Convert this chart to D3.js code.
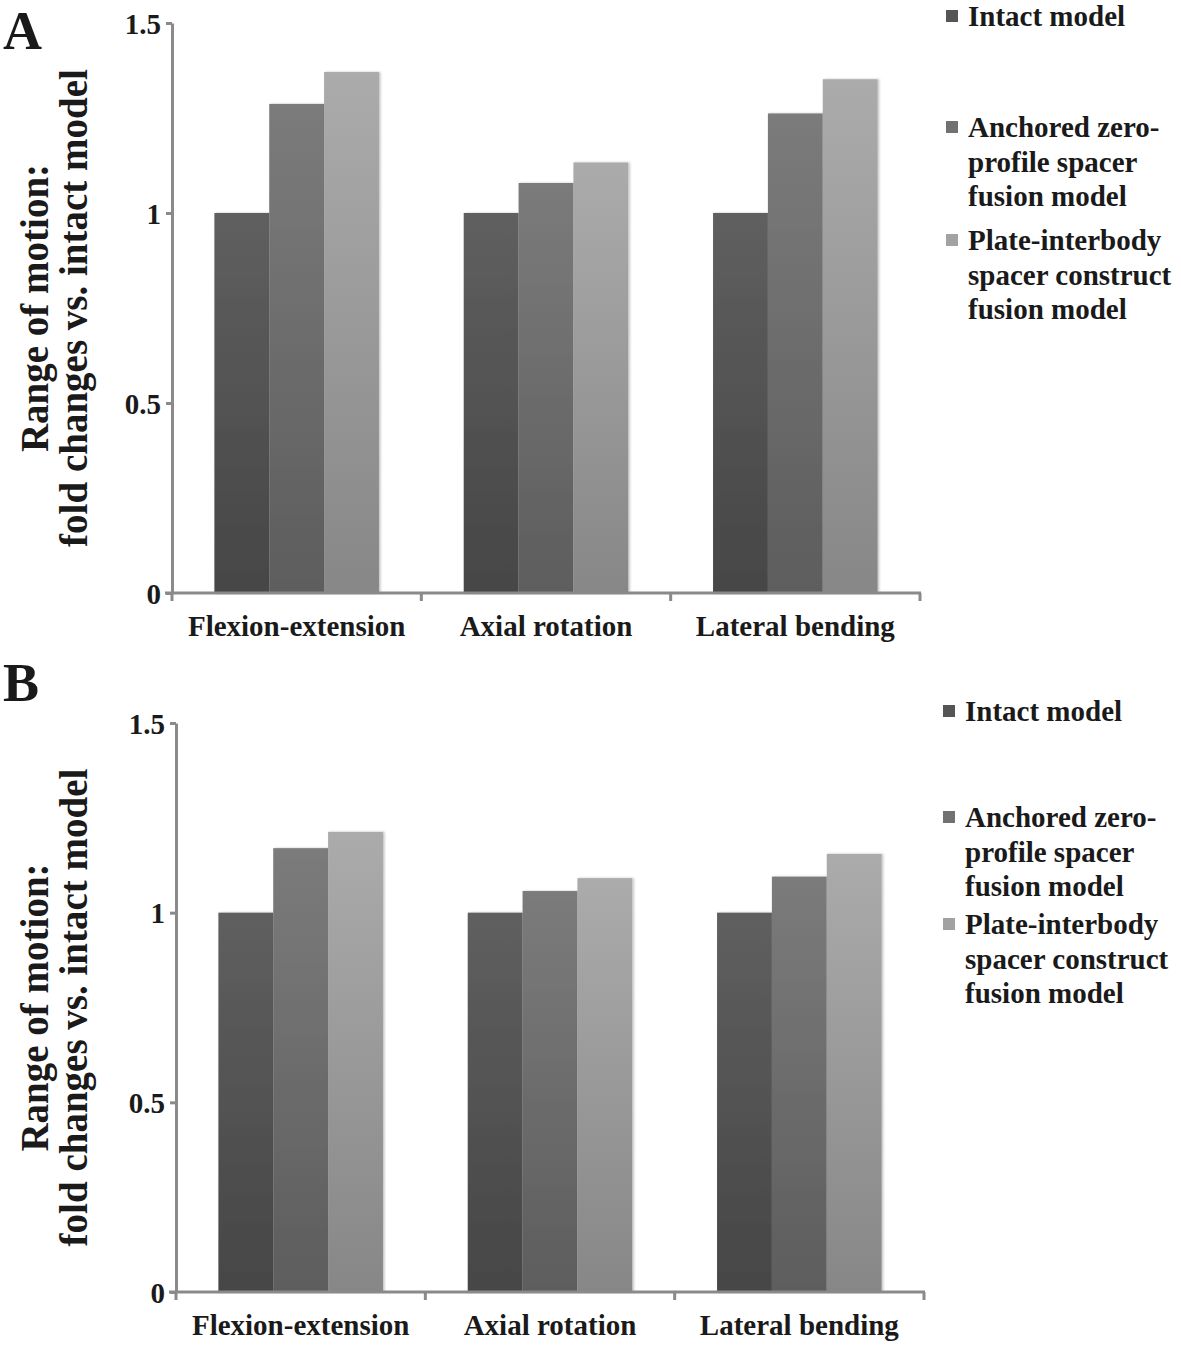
<!DOCTYPE html>
<html>
<head>
<meta charset="utf-8">
<script src="https://cdn.jsdelivr.net/npm/d3@7"></script>
<style>
  html, body { margin: 0; padding: 0; background: #fff; }
  svg { display: block; }
  text { font-family: "Liberation Serif", "Times New Roman", serif; fill: #1a1a1a; }
</style>
</head>
<body>
<svg id="chart" width="1181" height="1345"></svg>
<script>
// ---- data ----
const categories = ["Flexion-extension", "Axial rotation", "Lateral bending"];
const seriesKeys = ["intact", "anchored", "plate"];
const legendLines = [
  ["Intact model"],
  ["Anchored zero-", "profile spacer", "fusion model"],
  ["Plate-interbody", "spacer construct", "fusion model"]
];
const panelAIntact   = [1.0, 1.0, 1.0];
const panelAAnchored = [1.287, 1.079, 1.262];
const panelAPlate    = [1.371, 1.133, 1.352];
const panelBIntact   = [1.0, 1.0, 1.0];
const panelBAnchored = [1.170, 1.057, 1.095];
const panelBPlate    = [1.213, 1.091, 1.155];
const yTickValues = [0, 0.5, 1, 1.5];
const yTickLabels = ["0", "0.5", "1", "1.5"];
const yTitleLines = ["Range of motion:", "fold changes vs. intact model"];

// ---- styles ----
const gradStops = {
  intact:   ["#5f5f5f", "#464646"],
  anchored: ["#7b7b7b", "#5d5d5d"],
  plate:    ["#ababab", "#878787"]
};
const legendColors = { intact: "#555555", anchored: "#717171", plate: "#a2a2a2" };
const axisColor = "#8a8a8a";

const svg = d3.select("#chart");
const defs = svg.append("defs");
seriesKeys.forEach(k => {
  const g = defs.append("linearGradient").attr("id", "g-" + k)
    .attr("x1", 0).attr("y1", 0).attr("x2", 0).attr("y2", 1);
  g.append("stop").attr("offset", "0%").attr("stop-color", gradStops[k][0]);
  g.append("stop").attr("offset", "100%").attr("stop-color", gradStops[k][1]);
});
const f = defs.append("filter").attr("id", "shadow")
  .attr("x", "-10%").attr("y", "-10%").attr("width", "130%").attr("height", "120%");
f.append("feDropShadow").attr("dx", 1.5).attr("dy", 0).attr("stdDeviation", 1)
  .attr("flood-color", "#000").attr("flood-opacity", 0.25);

const panels = [
  { label: "A", labelY: 49, values: [panelAIntact, panelAAnchored, panelAPlate],
    x0: 172, x1: 920, yTop: 23, yBot: 593, legendX: 946,
    legendY: [16, 127, 240] },
  { label: "B", labelY: 701, values: [panelBIntact, panelBAnchored, panelBPlate],
    x0: 176, x1: 924, yTop: 723, yBot: 1292, legendX: 943,
    legendY: [711, 817, 924] }
];

panels.forEach(p => {
  const g = svg.append("g");
  const x = d3.scaleBand().domain(categories).range([p.x0, p.x1])
    .paddingInner(0.34).paddingOuter(0.17);
  const xs = d3.scaleBand().domain(seriesKeys).range([0, x.bandwidth()]).padding(0);
  const y = d3.scaleLinear().domain([0, 1.5]).range([p.yBot, p.yTop]);

  // bars
  const rows = categories.map((c, i) => ({ c, vals: seriesKeys.map((k, j) => ({ k, v: p.values[j][i] })) }));
  const cg = g.selectAll("g.cat").data(rows).join("g")
    .attr("transform", d => `translate(${x(d.c)},0)`);
  cg.selectAll("rect").data(d => d.vals).join("rect")
    .attr("x", d => xs(d.k))
    .attr("y", d => y(d.v))
    .attr("width", xs.bandwidth())
    .attr("height", d => y(0) - y(d.v))
    .attr("fill", d => `url(#g-${d.k})`)
    .attr("filter", "url(#shadow)");

  // y axis
  const yAxis = d3.axisLeft(y).tickValues(yTickValues)
    .tickFormat((d, i) => yTickLabels[i]).tickSize(6).tickSizeOuter(0).tickPadding(5);
  const ya = g.append("g").attr("transform", `translate(${p.x0},0)`).call(yAxis);
  ya.select(".domain").attr("stroke", axisColor).attr("stroke-width", 3);
  ya.selectAll(".tick line").attr("stroke", axisColor).attr("stroke-width", 3);
  ya.selectAll(".tick text").style("font-size", "29px").style("font-weight", "bold")
    .attr("fill", "#1a1a1a").attr("dy", "0.35em");

  // x axis
  const xAxis = d3.axisBottom(x).tickSize(0).tickPadding(22);
  const xa = g.append("g").attr("transform", `translate(0,${p.yBot})`).call(xAxis);
  xa.select(".domain").attr("stroke", axisColor).attr("stroke-width", 3)
    .attr("d", `M${p.x0 - 7},0H${p.x1 + 1}`);
  xa.selectAll(".tick text").style("font-size", "29px").style("font-weight", "bold")
    .attr("fill", "#1a1a1a").attr("dy", "0.71em");
  const bounds = [p.x0, ...categories.map(c => x(c) + x.bandwidth() / 2 + x.step() / 2)];
  xa.selectAll("line.sep").data(bounds).join("line").attr("class", "sep")
    .attr("x1", d => d).attr("x2", d => d).attr("y1", 0).attr("y2", 8)
    .attr("stroke", axisColor).attr("stroke-width", 3);

  // y title
  const cy = (p.yTop + p.yBot) / 2;
  const t = g.append("text")
    .attr("transform", `translate(48,${cy}) rotate(-90)`)
    .attr("text-anchor", "middle")
    .style("font-size", "39px").style("font-weight", "bold");
  yTitleLines.forEach((line, i) => {
    t.append("tspan").attr("x", 0).attr("dy", i === 0 ? 0 : 39).text(line);
  });

  // panel label
  g.append("text").attr("x", 3).attr("y", p.labelY)
    .style("font-size", "54px").style("font-weight", "bold").text(p.label);

  // legend
  seriesKeys.forEach((k, i) => {
    const ly = p.legendY[i];
    g.append("rect").attr("x", p.legendX).attr("y", ly - 6).attr("width", 12).attr("height", 12)
      .attr("fill", legendColors[k]);
    const lt = g.append("text").attr("x", p.legendX + 22).attr("y", ly)
      .style("font-size", "29px").style("font-weight", "bold");
    legendLines[i].forEach((line, j) => {
      lt.append("tspan").attr("x", p.legendX + 22).attr("dy", j === 0 ? "0.35em" : 34.5).text(line);
    });
  });
});
</script>
</body>
</html>
